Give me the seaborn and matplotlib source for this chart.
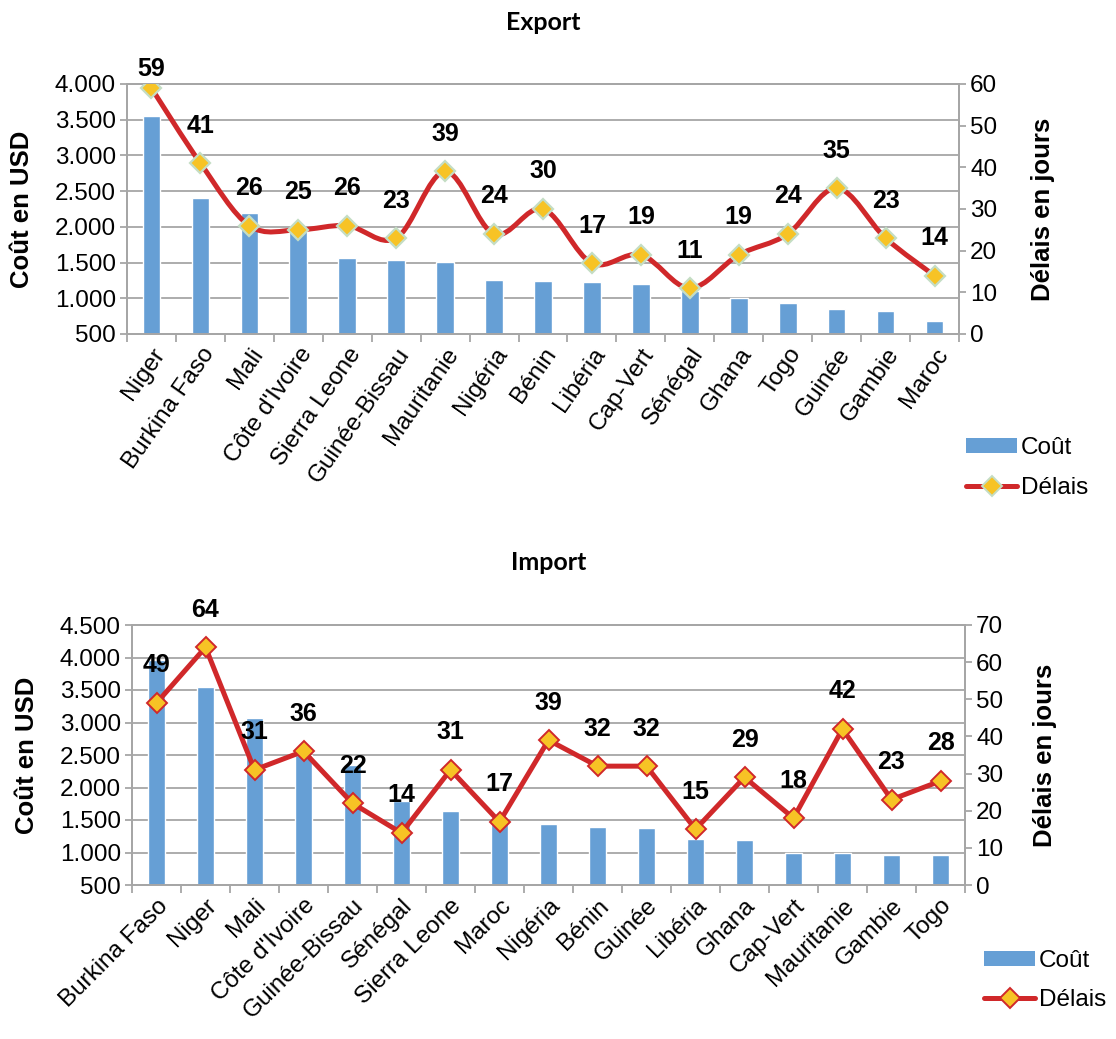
import numpy as np
import matplotlib
matplotlib.use("Agg")
import matplotlib.pyplot as plt
import seaborn as sns
import pandas as pd
from matplotlib.path import Path
from matplotlib.patches import PathPatch, Patch
from matplotlib.lines import Line2D
from matplotlib.ticker import FuncFormatter, MultipleLocator, FixedLocator

# ---------------- data ----------------
export_countries = ["Niger", "Burkina Faso", "Mali", "Côte d'Ivoire", "Sierra Leone", "Guinée-Bissau",
                    "Mauritanie", "Nigéria", "Bénin", "Libéria", "Cap-Vert", "Sénégal", "Ghana",
                    "Togo", "Guinée", "Gambie", "Maroc"]
export_cost = [3545, 2410, 2200, 1970, 1567, 1534, 1506, 1256, 1245, 1229, 1201, 1107, 1005, 930, 846, 822, 687]
export_delay = [59, 41, 26, 25, 26, 23, 39, 24, 30, 17, 19, 11, 19, 24, 35, 23, 14]

import_countries = ["Burkina Faso", "Niger", "Mali", "Côte d'Ivoire", "Guinée-Bissau", "Sénégal",
                    "Sierra Leone", "Maroc", "Nigéria", "Bénin", "Guinée", "Libéria", "Ghana",
                    "Cap-Vert", "Mauritanie", "Gambie", "Togo"]
import_cost = [3960, 3541, 3064, 2500, 2346, 1792, 1638, 1460, 1438, 1397, 1382, 1213, 1197, 987, 987, 967, 967]
import_delay = [49, 64, 31, 36, 22, 14, 31, 17, 39, 32, 32, 15, 29, 18, 42, 23, 28]

# ---------------- style ----------------
BAR = "#669FD5"
RED = "#D0282A"
GOLD = "#F7C325"
EDGE_TOP = "#C4DDC4"
GRID = "#A6A6A6"
FS = 17.5

sns.set_theme(style="white")
plt.rcParams["font.family"] = ["Liberation Sans", "DejaVu Sans"]
plt.rcParams["text.color"] = "black"
plt.rcParams["xtick.color"] = "black"
plt.rcParams["ytick.color"] = "black"

W, H = 1116, 1039
fig = plt.figure(figsize=(W / 100, H / 100), dpi=100)


def fx(px):
    return px / W


def fy(py):
    return 1 - py / H


def thousands(v, _):
    return f"{int(round(v)):,}".replace(",", ".")


def smooth_path(xs, ys):
    pts = np.column_stack([xs, ys]).astype(float)
    n = len(pts)
    verts = [pts[0]]
    codes = [Path.MOVETO]
    for i in range(n - 1):
        p0 = pts[i - 1] if i > 0 else pts[i]
        p1 = pts[i]
        p2 = pts[i + 1]
        p3 = pts[i + 2] if i + 2 < n else pts[i + 1]
        c1 = p1 + (p2 - p0) / 6.0
        c2 = p2 - (p3 - p1) / 6.0
        verts += [c1, c2, p2]
        codes += [Path.CURVE4] * 3
    return Path(verts, codes)


def panel(rect, countries, cost, delay, ylim, yticks, rlim, rstep, smooth, edge, rot, title, title_y,
          ylab_x, rlab_x, first_off=None):
    ax = fig.add_axes(rect)
    n = len(countries)
    df = pd.DataFrame({"pays": countries, "cout": cost})
    sns.barplot(data=df, x="pays", y="cout", ax=ax, color=BAR, width=0.36, saturation=1,
                order=countries, zorder=2)
    ax.set_xlim(-0.5, n - 0.5)
    ax.set_ylim(*ylim)
    ax.yaxis.set_major_locator(FixedLocator(yticks))
    ax.yaxis.set_major_formatter(FuncFormatter(thousands))
    ax.grid(axis="y", color=GRID, lw=1.3, zorder=0)
    ax.set_axisbelow(True)
    ax.set_xlabel("")
    ax.set_ylabel("")
    ax.set_xticks(np.arange(n))
    ax.set_xticklabels(countries, rotation=rot, ha="right", rotation_mode="anchor", fontsize=FS)
    ax.xaxis.set_minor_locator(FixedLocator(np.arange(n + 1) - 0.5))
    ax.tick_params(axis="x", which="major", length=0, pad=7)
    ax.tick_params(axis="x", which="minor", length=6, width=1.3, color=GRID, direction="out", bottom=True)
    ax.tick_params(axis="y", length=5, width=1.3, color=GRID, labelcolor="black", direction="out",
                   left=True, labelsize=FS, pad=3)
    for s in ax.spines.values():
        s.set_color(GRID)
        s.set_linewidth(1.3)

    tw = ax.twinx()
    xs = np.arange(n)
    if smooth:
        tw.add_patch(PathPatch(smooth_path(xs, delay), fill=False, edgecolor=RED, lw=3.6,
                               capstyle="round", joinstyle="round", zorder=3))
        tw.plot(xs, delay, ls="none", marker="D", markersize=10, markerfacecolor=GOLD,
                markeredgecolor=edge, markeredgewidth=1.6, zorder=4)
    else:
        sns.lineplot(x=xs, y=delay, ax=tw, color=RED, lw=3.6, marker="D", markersize=10,
                     markerfacecolor=GOLD, markeredgecolor=edge, markeredgewidth=1.4, zorder=4)
    tw.set_xlim(-0.5, n - 0.5)
    tw.set_ylim(*rlim)
    tw.yaxis.set_major_locator(MultipleLocator(rstep))
    tw.set_ylabel("")
    tw.tick_params(axis="y", length=5, width=1.3, color=GRID, labelcolor="black", direction="out",
                   right=True, labelsize=FS, pad=3)
    for s in tw.spines.values():
        s.set_color(GRID)
        s.set_linewidth(1.3)
    for i, v in enumerate(delay):
        off = 27
        if first_off is not None and i == 0:
            off = first_off
        tw.annotate(str(v), (i, v), xytext=(0, off), textcoords="offset points", ha="center",
                    va="center", fontsize=18, fontweight="bold", color="black", zorder=5)

    fig.text(rect[0] + rect[2] / 2, title_y, title, ha="center", va="center", fontsize=18,
             fontweight="bold", family=["Lato", "DejaVu Sans"])
    mid = rect[1] + rect[3] / 2
    fig.text(ylab_x, mid, "Coût en USD", rotation=90, ha="center", va="center", fontsize=18.5,
             fontweight="bold")
    fig.text(rlab_x, mid, "Délais en jours", rotation=90, ha="center", va="center", fontsize=18.5,
             fontweight="bold")
    return ax


panel([fx(127), fy(334), fx(959 - 127), 250 / H], export_countries, export_cost, export_delay,
      (500, 4000), np.arange(500, 4001, 500), (0, 60), 10, True, EDGE_TOP, 55, "Export", fy(22),
      fx(22), fx(1043), first_off=14)
panel([fx(132), fy(885), fx(965 - 132), 260 / H], import_countries, import_cost, import_delay,
      (500, 4500), np.arange(500, 4501, 500), (0, 70), 10, False, RED, 45, "Import", fy(562),
      fx(27), fx(1045))


def legend(x, y, edge, spacing):
    handles = [Patch(facecolor=BAR, edgecolor="none"),
               Line2D([0], [0], color=RED, lw=3.6, marker="D", markersize=10, markerfacecolor=GOLD,
                      markeredgecolor=edge, markeredgewidth=1.4)]
    fig.legend(handles, ["Coût", "Délais"], loc="upper left", bbox_to_anchor=(fx(x), fy(y)),
               frameon=False, fontsize=FS, handlelength=2.1, handleheight=0.6, handletextpad=0.15,
               labelspacing=spacing, borderpad=0, borderaxespad=0)


legend(966, 437, EDGE_TOP, 0.75)
legend(984, 950, RED, 0.7)

fig.savefig("out.png", dpi=100)
